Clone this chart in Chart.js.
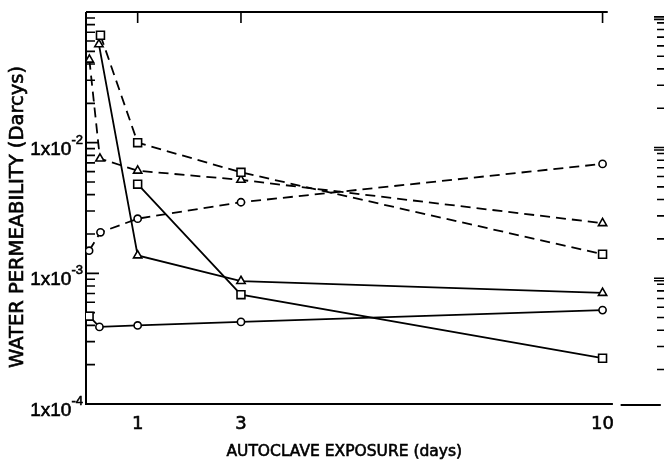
<!DOCTYPE html>
<html>
<head>
<meta charset="utf-8">
<script src="https://cdn.jsdelivr.net/npm/chart.js@4.4.1/dist/chart.umd.min.js"></script>
<style>
  html, body { margin: 0; padding: 0; background: #fff; }
</style>
</head>
<body>
<canvas id="permChart" width="664" height="463"></canvas>
<script>
// autoclave exposure (days) and water permeability (Darcys) per specimen series
const dashSquareDays = [0.28, 1, 3, 10];
const dashSquarePerm = [0.0664, 0.0100, 0.00593, 0.00140];

const dashTriangleDays = [0.065, 0.27, 1, 3, 10];
const dashTrianglePerm = [0.0431, 0.00755, 0.00610, 0.00519, 0.00242];

const dashCircleDays = [0.06, 0.28, 1, 3, 10];
const dashCirclePerm = [0.00149, 0.00206, 0.00262, 0.00350, 0.00688];

const solidTriangleDays = [0.25, 1, 3, 10];
const solidTrianglePerm = [0.0566, 0.00137, 0.000873, 0.000708];

const solidSquareDays = [1, 3, 10];
const solidSquarePerm = [0.00481, 0.000687, 0.000224];

const solidCircleDays = [0.06, 0.26, 1, 3, 10];
const solidCirclePerm = [0.000470, 0.000389, 0.000399, 0.000425, 0.000523];

// axis labels
const dayTicks = [1, 3, 10];
const decadeExponents = [-4, -3, -2];

const FONT = '"DejaVu Sans", "Liberation Sans", sans-serif';
const NARROW = '"Liberation Sans", "DejaVu Sans", sans-serif';
const markerRadius = { rect: 5.6, triangle: 4.8, circle: 3.6 };

function makeSeries(days, perm, styles, dashed) {
  const list = Array.isArray(styles) ? styles : days.map(() => styles);
  return {
    data: days.map((d, i) => ({ x: d, y: perm[i] })),
    borderColor: "#000",
    borderWidth: 1.8,
    borderDash: dashed ? [10, 6] : [],
    pointStyle: list,
    pointRadius: list.map(s => markerRadius[s]),
    pointBackgroundColor: "#fff",
    pointBorderColor: "#000",
    pointBorderWidth: 1.6,
    tension: 0,
    fill: false,
  };
}

// lettering drawn slightly heavy, like the stencilled labels
function letter(ctx, text, px, py) {
  ctx.fillText(text, px, py);
  ctx.strokeText(text, px, py);
}

// frame, inside ticks and lettering
const framePlugin = {
  id: "frame",
  beforeDatasetsDraw(chart) {
    const { ctx, chartArea: a, scales } = chart;
    const x = scales.x, y = scales.y, yr = scales.yr;
    ctx.save();
    ctx.strokeStyle = "#000";
    ctx.lineCap = "butt";

    // axes
    ctx.lineWidth = 2;
    ctx.beginPath();
    ctx.moveTo(a.left, a.top);
    ctx.lineTo(a.left, a.bottom);
    ctx.moveTo(a.left - 1, a.bottom);
    ctx.lineTo(x.getPixelForValue(10.2), a.bottom);
    ctx.moveTo(x.getPixelForValue(10.35), a.bottom + 1);
    ctx.lineTo(a.right + 4, a.bottom + 1);
    ctx.moveTo(a.left, a.top);
    ctx.lineTo(x.getPixelForValue(10.1), a.top);
    ctx.stroke();

    // top ticks
    ctx.lineWidth = 1.6;
    ctx.beginPath();
    dayTicks.forEach(d => {
      const px = x.getPixelForValue(d);
      ctx.moveTo(px, a.top);
      ctx.lineTo(px, a.top + 11);
    });
    ctx.stroke();

    // log ticks on the left axis, pointing inward
    ctx.beginPath();
    for (let e = -4; e <= -2; e++) {
      for (let m = 1; m <= 9; m++) {
        const v = m * Math.pow(10, e);
        const py = y.getPixelForValue(v);
        if (py < a.top + 2 || py > a.bottom - 1) continue;
        ctx.moveTo(a.left, py);
        ctx.lineTo(a.left + (m === 1 ? 13 : 9), py);
      }
    }
    ctx.stroke();

    // neighbouring panel's log axis at the right edge
    ctx.beginPath();
    for (let e = -4; e <= -1; e++) {
      for (let m = 1; m <= 9; m++) {
        const v = m * Math.pow(10, e);
        if (v < 2e-4 || v > 0.1) continue;
        const py = yr.getPixelForValue(v);
        ctx.moveTo(m === 1 ? 654 : 657, py);
        ctx.lineTo(664, py);
        if (m === 1) {
          ctx.moveTo(654, py + 2.5);
          ctx.lineTo(664, py + 2.5);
        }
      }
    }
    ctx.stroke();

    // tick labels
    ctx.fillStyle = "#000";
    ctx.lineWidth = 0.6;
    ctx.font = "18px " + FONT;
    ctx.textAlign = "center";
    ctx.textBaseline = "alphabetic";
    dayTicks.forEach(d => letter(ctx, String(d), x.getPixelForValue(d), a.bottom + 25));

    decadeExponents.forEach(e => {
      const py = y.getPixelForValue(Math.pow(10, e));
      ctx.font = "13px " + NARROW;
      ctx.textAlign = "right";
      const sup = "-" + Math.abs(e);
      letter(ctx, sup, 83, py + 1);
      const supW = ctx.measureText(sup).width;
      ctx.font = "19px " + NARROW;
      letter(ctx, "1x10", 83 - supW, py + 12);
    });

    // axis titles
    ctx.font = "15.5px " + FONT;
    ctx.textAlign = "center";
    letter(ctx, "AUTOCLAVE EXPOSURE (days)", (x.getPixelForValue(0) + x.getPixelForValue(10)) / 2, a.bottom + 52);

    ctx.save();
    ctx.translate(23, (a.top + a.bottom) / 2 + 9);
    ctx.rotate(-Math.PI / 2);
    ctx.font = "19.5px " + FONT;
    letter(ctx, "WATER PERMEABILITY (Darcys)", 0, 0);
    ctx.restore();

    ctx.restore();
  },
};

new Chart(document.getElementById("permChart"), {
  type: "line",
  data: {
    datasets: [
      makeSeries(dashSquareDays, dashSquarePerm, "rect", true),
      makeSeries(dashTriangleDays, dashTrianglePerm, "triangle", true),
      makeSeries(dashCircleDays, dashCirclePerm, "circle", true),
      makeSeries(solidTriangleDays, solidTrianglePerm, "triangle", false),
      makeSeries(solidSquareDays, solidSquarePerm, "rect", false),
      makeSeries(solidCircleDays, solidCirclePerm, ["rect", "circle", "circle", "circle", "circle"], false),
    ],
  },
  options: {
    responsive: false,
    devicePixelRatio: 1,
    animation: false,
    layout: { padding: { left: 86, top: 12, right: 2, bottom: 59 } },
    scales: {
      x: { type: "linear", min: 0, max: 11.05, display: false },
      y: { type: "logarithmic", min: 1e-4, max: 1e-1, display: false },
      yr: { type: "logarithmic", min: 1.09e-4, max: 0.109, display: false },
    },
    plugins: {
      legend: { display: false },
      tooltip: { enabled: false },
    },
  },
  plugins: [framePlugin],
});
</script>
</body>
</html>
